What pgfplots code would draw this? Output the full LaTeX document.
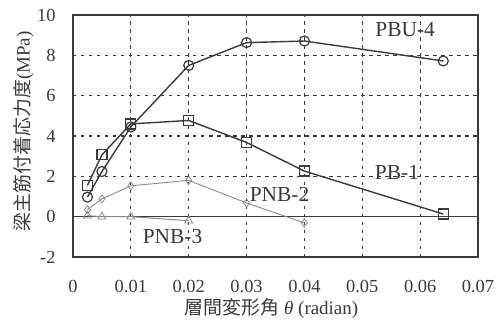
\documentclass[border=0pt]{standalone}
\usepackage{pgfplots}
\pgfplotsset{compat=1.18}
\usepackage{fontspec}
\setmainfont{Liberation Serif}
\newfontfamily\cjk{Noto Sans CJK JP}
\definecolor{dk}{HTML}{3A3A3A}
\definecolor{lg}{HTML}{8A8A8A}
\begin{document}
\begin{tikzpicture}
\begin{axis}[
  name=ax,
  scale only axis,
  width=405bp, height=242bp,
  xmin=0, xmax=0.07, ymin=-2, ymax=10,
  scaled x ticks=false,
  xtick={0,0.01,0.02,0.03,0.04,0.05,0.06,0.07},
  xticklabels={0,0.01,0.02,0.03,0.04,0.05,0.06,0.07},
  ytick={-2,0,2,4,6,8,10},
  yticklabels={-2,0,2,4,6,8,10},
  tick label style={font=\fontsize{18.5}{20}\selectfont, text=dk},
  xticklabel style={anchor=center, yshift=-29.5bp, inner sep=0pt},
  yticklabel style={anchor=east, xshift=-14bp},
  xtick style={draw=none},
  ytick style={draw=dk, line width=0.8bp},
  major tick length=3bp,
  grid=major,
  major grid style={dk, line width=1.1bp, dash pattern=on 3.5bp off 4.5bp},
  axis line style={dk, line width=1.4bp},
  xlabel={{\cjk 層間変形角} \textit{θ} (radian)},
  xlabel style={font=\fontsize{19}{20}\selectfont, text=dk, at={(axis description cs:0.49,-0.213)}, anchor=center, inner sep=0pt},
  ylabel={{\cjk 梁主筋付着応力度}(MPa)},
  ylabel style={font=\fontsize{19}{20}\selectfont, text=dk, at={(axis description cs:-0.122,0.519)}, anchor=center},
  clip=false,
]
\draw[dk, line width=1.3bp] (axis cs:0,0) -- (axis cs:0.07,0);
% PNB-3
\addplot[lg, line width=1bp, mark=triangle, mark size=4.5bp, mark options={solid, fill=white, draw=lg, line width=0.8bp}]
coordinates {(0.0025,0.05) (0.005,0.0) (0.01,0.0) (0.02,-0.2)};
% PNB-2
\addplot[lg, line width=0.9bp, mark=diamond, mark size=4bp, mark options={solid, fill=white, draw=lg, line width=0.8bp}]
coordinates {(0.0025,0.35) (0.005,0.88) (0.01,1.53) (0.02,1.8) (0.03,0.68) (0.04,-0.31)};
% PB-1
\addplot[dk, line width=1.4bp, mark=square, mark size=5bp, mark options={solid, fill=white, draw=dk, line width=1.2bp}]
coordinates {(0.0025,1.55) (0.005,3.07) (0.01,4.6) (0.02,4.77) (0.03,3.68) (0.04,2.26) (0.064,0.13)};
% PBU-4
\addplot[dk, line width=1.4bp, mark=o, mark size=5bp, mark options={solid, fill=white, draw=dk, line width=1.2bp}]
coordinates {(0.0025,0.97) (0.005,2.24) (0.01,4.45) (0.02,7.5) (0.03,8.63) (0.04,8.71) (0.064,7.72)};
\node[font=\fontsize{21.5}{22}\selectfont, text=dk] at (axis cs:0.0574,9.26) {PBU-4};
\node[font=\fontsize{21.5}{22}\selectfont, text=dk] at (axis cs:0.056,2.19) {PB-1};
\node[font=\fontsize{21.5}{22}\selectfont, text=dk] at (axis cs:0.0357,1.09) {PNB-2};
\node[font=\fontsize{21.5}{22}\selectfont, text=dk] at (axis cs:0.0172,-1.0) {PNB-3};
\end{axis}
\pgfresetboundingbox
\path[use as bounding box] ([shift={(-73bp,-63bp)}]ax.south west) rectangle ([shift={(23bp,15bp)}]ax.north east);
\end{tikzpicture}
\end{document}
